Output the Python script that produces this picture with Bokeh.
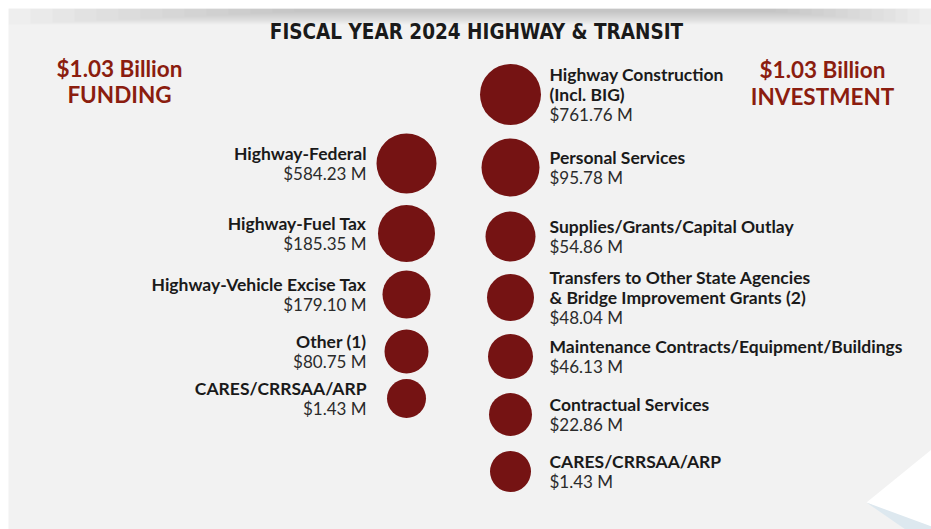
from bokeh.plotting import figure
from bokeh.models import Range1d
from bokeh.core.properties import value
from bokeh.embed import file_html
from bokeh.resources import INLINE

# ---- data ----
title_text = "FISCAL YEAR 2024 HIGHWAY & TRANSIT"
funding_heading = ["$1.03 Billion", "FUNDING"]
investment_heading = ["$1.03 Billion", "INVESTMENT"]

funding_labels = ["Highway-Federal", "Highway-Fuel Tax", "Highway-Vehicle Excise Tax",
                  "Other (1)", "CARES/CRRSAA/ARP"]
funding_values = [584.23, 185.35, 179.10, 80.75, 1.43]

investment_labels = ["Highway Construction\n(Incl. BIG)", "Personal Services",
                     "Supplies/Grants/Capital Outlay",
                     "Transfers to Other State Agencies\n& Bridge Improvement Grants (2)",
                     "Maintenance Contracts/Equipment/Buildings", "Contractual Services",
                     "CARES/CRRSAA/ARP"]
investment_values = [761.76, 95.78, 54.86, 48.04, 46.13, 22.86, 1.43]

# ---- layout (pixel-like coordinates) ----
left_rows_y = [163, 233, 294, 351, 398]
right_rows_y = [94, 167, 236, 297, 356, 414, 471]
left_sizes = [60, 57, 48, 44, 39]
right_sizes = [61, 58, 50, 47, 45, 43, 41]
left_circle_x = 406
right_circle_x = 510
left_text_x = 366
right_text_x = 549
line_h = 19.8

BG = "#f2f2f2"
RED = "#751313"
HEAD = "#8b1d0f"
FONT = "Lato"

p = figure(width=931, height=529, x_range=Range1d(8, 931), y_range=Range1d(529, 8),
           output_backend="svg", toolbar_location=None,
           min_border_left=8, min_border_top=8, min_border_right=0, min_border_bottom=0)
p.axis.visible = False
p.grid.visible = False
p.outline_line_color = None
p.background_fill_color = BG
p.border_fill_color = "white"

# top shadow
for i in range(14):
    p.quad(left=[8 + i * 22], right=[931 - i * 12], top=[8], bottom=[8 + 16 - i],
           fill_color="#9a9a9a", fill_alpha=0.035, line_color=None)

# bottom-right decoration
p.patch(x=[931, 866, 931], y=[449, 502, 529], fill_color="white", line_color=None)
p.patch(x=[866, 931, 931, 905], y=[502, 526, 529, 529], fill_color="#dde8ef", line_color=None)

# title
p.text(x=[476], y=[31], text=[title_text], text_align="center", text_baseline="middle",
       text_font=value("DejaVu Sans Condensed"), text_font_style="bold",
       text_font_size="20.5px", text_color="#1a1a1a")

# headings
for i, t in enumerate(funding_heading):
    p.text(x=[119], y=[68 + i * 26], text=[t], text_align="center", text_baseline="middle",
           text_font=value(FONT), text_font_style="bold", text_font_size="22.5px",
           text_color=HEAD)
for i, t in enumerate(investment_heading):
    p.text(x=[822], y=[69 + i * 27], text=[t], text_align="center", text_baseline="middle",
           text_font=value(FONT), text_font_style="bold", text_font_size="22.5px",
           text_color=HEAD)

# circles
p.scatter(x=[left_circle_x] * len(funding_values), y=left_rows_y, size=left_sizes,
          marker="circle", fill_color=RED, line_color=None)
p.scatter(x=[right_circle_x] * len(investment_values), y=right_rows_y, size=right_sizes,
          marker="circle", fill_color=RED, line_color=None)


def add_labels(labels, vals, rows_y, x, align):
    nx, ny, nt, vx, vy, vt = [], [], [], [], [], []
    for lab, v, cy in zip(labels, vals, rows_y):
        lines = lab.split("\n")
        n = len(lines) + 1
        top = cy - (n - 1) * line_h / 2
        for k, ln in enumerate(lines):
            nx.append(x); ny.append(top + k * line_h); nt.append(ln)
        vx.append(x); vy.append(top + len(lines) * line_h); vt.append(f"${v:.2f} M")
    p.text(x=nx, y=ny, text=nt, text_align=align, text_baseline="middle",
           text_font=value(FONT), text_font_style="bold", text_font_size="17.5px",
           text_color="#1a1a1a")
    p.text(x=vx, y=vy, text=vt, text_align=align, text_baseline="middle",
           text_font=value(FONT), text_font_size="17px", text_color="#2b2b2b")


add_labels(funding_labels, funding_values, left_rows_y, left_text_x, "right")
add_labels(investment_labels, investment_values, right_rows_y, right_text_x, "left")

open("out.html", "w").write(file_html(p, INLINE))
